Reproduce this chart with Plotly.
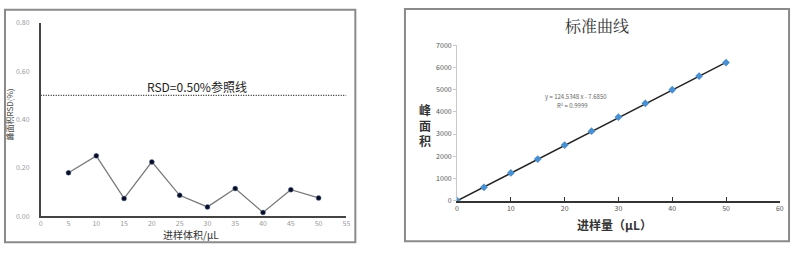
import plotly.graph_objects as go

# Left chart data
vol = [5, 10, 15, 20, 25, 30, 35, 40, 45, 50]
rsd = [0.18, 0.25, 0.074, 0.225, 0.087, 0.039, 0.115, 0.016, 0.11, 0.076]
ref_x = [0, 55]
ref_y = [0.50, 0.50]
left_xticks = [0, 5, 10, 15, 20, 25, 30, 35, 40, 45, 50, 55]
left_yticks = [0.0, 0.2, 0.4, 0.6, 0.8]

# Right chart data
std_x = [0, 5, 10, 15, 20, 25, 30, 35, 40, 45, 50]
std_y = [0, 600, 1250, 1870, 2500, 3125, 3760, 4380, 4990, 5605, 6212]
slope = 124.5348
intercept = -7.6850
fit_x = [0, 50]
fit_y = [slope * v + intercept for v in fit_x]
right_xticks = [0, 10, 20, 30, 40, 50, 60]
right_yticks = [0, 1000, 2000, 3000, 4000, 5000, 6000, 7000]

FONT = "Noto Sans CJK SC"

fig = go.Figure()

fig.add_trace(go.Scatter(x=ref_x, y=ref_y, mode="lines",
                         line=dict(color="#222222", width=1.2, dash="1px,1.5px"),
                         xaxis="x", yaxis="y", showlegend=False, hoverinfo="skip"))
fig.add_trace(go.Scatter(x=vol, y=rsd, mode="lines+markers",
                         line=dict(color="#7a7a7a", width=1.3),
                         marker=dict(color="#0b0b25", size=5, line=dict(color="#6a8ab0", width=0.5)),
                         xaxis="x", yaxis="y", showlegend=False))

fig.add_trace(go.Scatter(x=fit_x, y=fit_y, mode="lines",
                         line=dict(color="#222222", width=1.4),
                         xaxis="x2", yaxis="y2", showlegend=False, hoverinfo="skip"))
fig.add_trace(go.Scatter(x=std_x, y=std_y, mode="markers",
                         marker=dict(color="#4a90d0", size=6, symbol="diamond"),
                         xaxis="x2", yaxis="y2", showlegend=False))

H = 253.0
W = 800.0
def py(p):
    return 1 - p / H

fig.update_layout(
    width=800, height=253,
    margin=dict(l=0, r=0, t=0, b=0),
    paper_bgcolor="white", plot_bgcolor="white",
    font=dict(family=FONT),
    xaxis=dict(domain=[39 / W, 347 / W], range=[0, 55], tickvals=left_xticks,
               showgrid=False, zeroline=False, showline=True, linecolor="#444444", linewidth=1.5,
               tickfont=dict(size=7, color="#9a9a9a"), ticks="", anchor="y", fixedrange=True),
    yaxis=dict(domain=[py(219), py(17.5)], range=[0, 0.8], tickvals=left_yticks,
               tickformat=".2f", showgrid=False, zeroline=False, showline=True,
               linecolor="#444444", linewidth=1.5, ticklabelstandoff=8,
               tickfont=dict(size=7, color="#9a9a9a"), ticks="", anchor="x"),
    xaxis2=dict(domain=[458.5 / W, 783.7 / W], range=[0, 60], tickvals=right_xticks,
                showgrid=False, zeroline=False, showline=True, linecolor="#333333", linewidth=1.5,
                ticks="inside", ticklen=4, tickcolor="#333333", tickwidth=1,
                tickfont=dict(size=7, color="#555555"), anchor="y2"),
    yaxis2=dict(domain=[py(202.7), py(40.7)], range=[0, 7000], tickvals=right_yticks,
                showgrid=False, zeroline=False, showline=True, linecolor="#c8c8c8", linewidth=1,
                ticks="outside", ticklen=3, tickcolor="#c8c8c8",
                tickfont=dict(size=7, color="#555555"), anchor="x2"),
    shapes=[
        dict(type="rect", xref="paper", yref="paper", x0=3 / W, x1=356 / W, y0=py(246), y1=py(4),
             line=dict(color="#8a8a8a", width=2)),
        dict(type="rect", xref="paper", yref="paper", x0=406 / W, x1=793 / W, y0=py(245), y1=py(3),
             line=dict(color="#8a8a8a", width=2)),
    ],
    annotations=[
        dict(text="RSD=0.50%参照线", x=196 / W, y=py(84), xref="paper", yref="paper",
             showarrow=False, font=dict(size=12, color="#222222"), xanchor="center", yanchor="middle"),
        dict(text="峰面积RSD(%)", x=8 / W, y=py(113), xref="paper", yref="paper", textangle=-90,
             showarrow=False, font=dict(size=8, color="#444444"), xanchor="center", yanchor="middle"),
        dict(text="进样体积/μL", x=190 / W, y=py(238), xref="paper", yref="paper",
             showarrow=False, font=dict(size=10, color="#333333"), xanchor="center", yanchor="middle"),
        dict(text="标准曲线", x=599 / W, y=py(20), xref="paper", yref="paper",
             showarrow=False, font=dict(size=16, color="#333333", family="Noto Serif CJK SC, " + FONT),
             xanchor="center", yanchor="middle"),
        dict(text="y = 124.5348 x - 7.6850", x=578 / W, y=py(94), xref="paper", yref="paper",
             showarrow=False, font=dict(size=6, color="#666666"), xanchor="center", yanchor="middle"),
        dict(text="R² = 0.9999", x=575 / W, y=py(103.5), xref="paper", yref="paper",
             showarrow=False, font=dict(size=6, color="#666666"), xanchor="center", yanchor="middle"),
        dict(text="<b>峰</b><br><b>面</b><br><b>积</b>", x=426 / W, y=py(124), xref="paper", yref="paper",
             showarrow=False, font=dict(size=12, color="#333333"), xanchor="center", yanchor="middle",
             align="center"),
        dict(text="<b>进样量（μL）</b>", x=617 / W, y=py(228), xref="paper", yref="paper",
             showarrow=False, font=dict(size=12, color="#333333"), xanchor="center", yanchor="middle"),
    ],
)

fig.write_html("out.html")
